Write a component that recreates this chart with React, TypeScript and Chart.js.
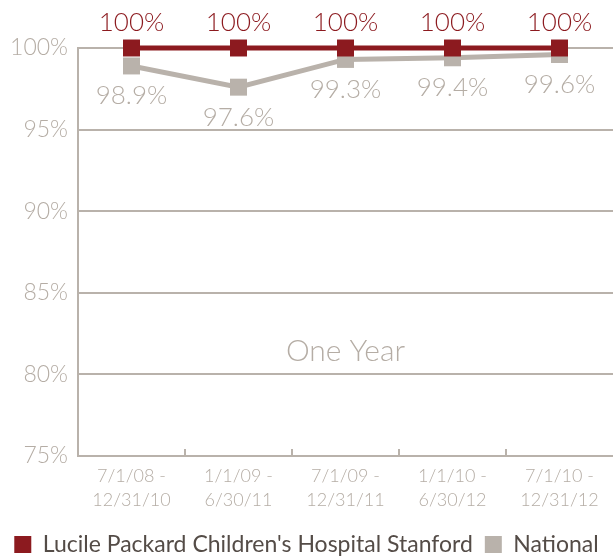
import React, { useEffect, useRef } from 'react';
import { Chart, registerables } from 'chart.js';
Chart.register(...registerables);

const categories = [
  ['7/1/08 -', '12/31/10'],
  ['1/1/09 -', '6/30/11'],
  ['7/1/09 -', '12/31/11'],
  ['1/1/10 -', '6/30/12'],
  ['7/1/10 -', '12/31/12'],
];
const lucileValues = [100, 100, 100, 100, 100];
const nationalValues = [98.9, 97.6, 99.3, 99.4, 99.6];
const lucileLabels = ['100%', '100%', '100%', '100%', '100%'];
const nationalLabels = ['98.9%', '97.6%', '99.3%', '99.4%', '99.6%'];
const yTicks = [75, 80, 85, 90, 95, 100];
const annotationText = 'One Year';
const annotationValue = 81.4;

const RED = '#8c1a1f';
const GRAY = '#b9b2ab';
const TEXT_GRAY = '#b5ada5';
const LEGEND_TEXT = '#544c47';
const FONT = 'Lato, "Open Sans", sans-serif';

const overlayPlugin = {
  id: 'overlay',
  afterDatasetsDraw(chart: any) {
    const ctx = chart.ctx;
    const xs = chart.scales.x;
    const ys = chart.scales.y;
    const area = chart.chartArea;
    ctx.save();
    ctx.strokeStyle = GRAY;
    ctx.lineWidth = 2;
    for (let i = 0; i < categories.length - 1; i++) {
      const px = Math.round((xs.getPixelForValue(i) + xs.getPixelForValue(i + 1)) / 2);
      ctx.beginPath();
      ctx.moveTo(px, area.bottom);
      ctx.lineTo(px, area.bottom - 7);
      ctx.stroke();
    }
    ctx.textAlign = 'center';
    ctx.textBaseline = 'middle';
    ctx.font = `300 26px ${FONT}`;
    const m0 = chart.getDatasetMeta(0);
    const m1 = chart.getDatasetMeta(1);
    ctx.fillStyle = RED;
    m0.data.forEach((p: any, i: number) => {
      ctx.fillText(lucileLabels[i], p.x, p.y - 25);
    });
    ctx.fillStyle = TEXT_GRAY;
    m1.data.forEach((p: any, i: number) => {
      ctx.fillText(nationalLabels[i], p.x, p.y + 30);
    });
    ctx.font = `300 30px ${FONT}`;
    ctx.fillText(annotationText, (area.left + area.right) / 2, ys.getPixelForValue(annotationValue));
    ctx.restore();
  },
};

export default function App() {
  const ref = useRef<HTMLCanvasElement>(null);
  useEffect(() => {
    const chart = new Chart(ref.current!, {
      type: 'line',
      data: {
        labels: categories as any,
        datasets: [
          {
            label: "Lucile Packard Children's Hospital Stanford",
            data: lucileValues,
            borderColor: RED,
            backgroundColor: RED,
            borderWidth: 5,
            pointStyle: 'rect',
            pointRadius: 12,
            pointBorderWidth: 0,
            pointBackgroundColor: RED,
            clip: false as any,
            order: 0,
          },
          {
            label: 'National',
            data: nationalValues,
            borderColor: GRAY,
            backgroundColor: GRAY,
            borderWidth: 5,
            pointStyle: 'rect',
            pointRadius: 12,
            pointBorderWidth: 0,
            pointBackgroundColor: GRAY,
            clip: false as any,
            order: 1,
          },
        ],
      },
      options: {
        animation: false,
        responsive: false,
        events: [],
        layout: { autoPadding: false, padding: { top: 48, right: 0, left: 0, bottom: -10 } },
        plugins: {
          tooltip: { enabled: false },
          legend: {
            position: 'bottom',
            labels: {
              boxWidth: 17,
              boxHeight: 17,
              color: LEGEND_TEXT,
              font: { family: FONT, size: 23, weight: '400' as any, lineHeight: 1 },
              padding: 12,
              generateLabels: (chart: any) =>
                chart.data.datasets.map((ds: any, i: number) => ({
                  text: ds.label,
                  fillStyle: ds.backgroundColor,
                  strokeStyle: ds.backgroundColor,
                  lineWidth: 0,
                  fontColor: LEGEND_TEXT,
                  datasetIndex: i,
                  hidden: false,
                })),
            },
          },
        },
        scales: {
          x: {
            type: 'category',
            offset: true,
            grid: { display: false },
            border: { display: false },
            ticks: {
              color: TEXT_GRAY,
              font: { family: FONT, size: 18, weight: '300' as any, lineHeight: 1.35 },
              padding: 0,
              maxRotation: 0,
              autoSkip: false,
            },
            afterFit: (s: any) => {
              s.height = 65;
              s.paddingLeft = 0;
              s.paddingRight = 0;
            },
          },
          y: {
            min: 75,
            max: 100,
            afterBuildTicks: (s: any) => {
              s.ticks = yTicks.map((v) => ({ value: v }));
            },
            grid: { color: GRAY, lineWidth: 2, drawTicks: false },
            border: { display: true, color: GRAY, width: 2 },
            ticks: {
              color: TEXT_GRAY,
              font: { family: FONT, size: 23, weight: '300' as any },
              padding: 10,
              callback: (v: any) => `${v}%`,
            },
            afterFit: (s: any) => {
              s.width = 78;
            },
          },
        },
      },
      plugins: [overlayPlugin],
    });
    return () => chart.destroy();
  }, []);
  return (
    <div style={{ position: 'absolute', left: 0, top: 0, width: 613, height: 556 }}>
      <canvas ref={ref} width={613} height={556} style={{ width: 613, height: 556 }} />
    </div>
  );
}
